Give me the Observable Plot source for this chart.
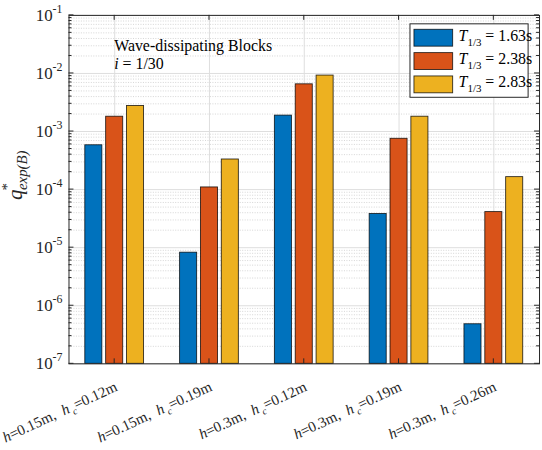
<!DOCTYPE html>
<html>
<head>
<meta charset="utf-8">
<script src="https://cdn.jsdelivr.net/npm/d3@7"></script>
<script src="https://cdn.jsdelivr.net/npm/@observablehq/plot@0.6"></script>
<style>
  html, body { margin: 0; padding: 0; background: #fff; overflow: hidden; }
</style>
</head>
<body>
<div id="chart"></div>
<script>
// Test cases: water depth h and crest height hc (m)
const depthH = ["0.15", "0.15", "0.3", "0.3", "0.3"];
const crestHc = ["0.12", "0.19", "0.12", "0.19", "0.26"];

// Significant wave periods T1/3 (s)
const periods = ["1.63", "2.38", "2.83"];

// Dimensionless overtopping rate q*exp(B) for each period
const qT163 = [5.8e-4, 8.2e-6, 1.88e-3, 3.8e-5, 4.8e-7];
const qT238 = [1.8e-3, 1.09e-4, 6.5e-3, 7.5e-4, 4.1e-5];
const qT283 = [2.75e-3, 3.3e-4, 9.2e-3, 1.8e-3, 1.64e-4];

const seriesColors = ["#0072BD", "#D95319", "#EDB120"];

// Decade exponents shown on the y axis
const yExponents = [-7, -6, -5, -4, -3, -2, -1];

const series = [qT163, qT238, qT283];
const groupIdx = depthH.map((_, i) => i + 1);
const yMin = 10 ** yExponents[0], yMax = 10 ** yExponents[yExponents.length - 1];

// Bar layout within each group (in category units)
const barStep = 0.22, barWidth = 0.18;
const bars = [];
series.forEach((vals, s) => {
  vals.forEach((q, i) => {
    const c = i + 1 + (s - 1) * barStep;
    bars.push({x1: c - barWidth / 2, x2: c + barWidth / 2, q, s});
  });
});

const majorTicks = yExponents.map(e => 10 ** e);
const minorTicks = [];
for (const e of yExponents.slice(0, -1)) for (let m = 2; m <= 9; m++) minorTicks.push(m * 10 ** e);

const serif = "Liberation Serif, Times New Roman, serif";
const frameColor = "#262626";

const chart = Plot.plot({
  width: 546,
  height: 450,
  marginLeft: 69,
  marginRight: 3,
  marginTop: 15,
  marginBottom: 84,
  x: {type: "linear", domain: [0.518, 5.482], axis: null},
  y: {type: "log", domain: [yMin, yMax], axis: null},
  marks: [
    Plot.ruleY(minorTicks, {stroke: "#c4c4c4", strokeDasharray: "1,1.5", strokeWidth: 0.7}),
    Plot.ruleY(majorTicks, {stroke: "#dedede", strokeWidth: 1}),
    Plot.ruleX(groupIdx, {stroke: "#dedede", strokeWidth: 1}),
    Plot.rectY(bars, {
      x1: "x1", x2: "x2", y1: yMin, y2: "q",
      fill: d => seriesColors[d.s],
      stroke: "#000", strokeOpacity: 0.8, strokeWidth: 0.9
    }),
    Plot.frame({stroke: frameColor, strokeWidth: 1})
  ]
});

const svg = d3.select(chart).attr("font-family", serif);
const sx = chart.scale("x"), sy = chart.scale("y");
const X = v => sx.apply(v), Y = v => sy.apply(v);
const [xL, xR] = [X(sx.domain[0]), X(sx.domain[1])];
const [yB, yT] = [Y(yMin), Y(yMax)];

function addText(parent, anchor, size, fill) {
  return parent.append("text")
    .attr("text-anchor", anchor)
    .attr("font-family", serif)
    .attr("font-size", size)
    .attr("fill", fill);
}

// Inward ticks on all four sides
const ticks = svg.append("g").attr("stroke", frameColor).attr("stroke-width", 1);
for (const v of majorTicks) {
  ticks.append("line").attr("x1", xL).attr("x2", xL + 5).attr("y1", Y(v)).attr("y2", Y(v));
  ticks.append("line").attr("x1", xR).attr("x2", xR - 5).attr("y1", Y(v)).attr("y2", Y(v));
}
for (const v of minorTicks) {
  ticks.append("line").attr("x1", xL).attr("x2", xL + 3).attr("y1", Y(v)).attr("y2", Y(v));
  ticks.append("line").attr("x1", xR).attr("x2", xR - 3).attr("y1", Y(v)).attr("y2", Y(v));
}
for (const i of groupIdx) {
  ticks.append("line").attr("x1", X(i)).attr("x2", X(i)).attr("y1", yB).attr("y2", yB - 5);
  ticks.append("line").attr("x1", X(i)).attr("x2", X(i)).attr("y1", yT).attr("y2", yT + 5);
}

// y tick labels: 10^e
for (const e of yExponents) {
  const t = addText(svg, "end", 17, frameColor)
    .attr("x", xL - 6).attr("y", Y(10 ** e) + 6);
  t.append("tspan").text("10");
  t.append("tspan").attr("dy", -8).attr("font-size", 12).text(String(e));
}

// x tick labels, rotated: h=…m, h_c=…m
depthH.forEach((h, i) => {
  const t = addText(svg, "end", 15, frameColor)
    .attr("transform", `translate(${X(i + 1) + 4},${yB + 27}) rotate(-25)`);
  t.append("tspan").attr("font-style", "italic").text("h");
  t.append("tspan").text(`=${h}m,  `);
  t.append("tspan").attr("font-style", "italic").text("h");
  t.append("tspan").attr("dx", 2).attr("dy", 4).attr("font-style", "italic").attr("font-size", 10).text("c");
  t.append("tspan").attr("dy", -4).text(`=${crestHc[i]}m`);
});

// y axis label: q*_exp(B)
{
  const yMid = (yT + yB) / 2;
  const t = addText(svg, "middle", 21, frameColor)
    .attr("transform", `translate(22,${yMid - 14}) rotate(-90)`);
  t.append("tspan").attr("font-style", "italic").text("q");
  t.append("tspan").attr("dy", -10).attr("dx", -1).attr("font-size", 15).text("*");
  t.append("tspan").attr("dx", -7).attr("dy", 15).attr("font-style", "italic").attr("font-size", 15).text("exp(B)");
}

// Annotation
{
  const ax = X(1), ay = Y(10 ** -1.63);
  addText(svg, "start", 16, "#000").attr("x", ax).attr("y", ay)
    .text("Wave-dissipating Blocks");
  const t2 = addText(svg, "start", 16, "#000").attr("x", ax).attr("y", ay + 18);
  t2.append("tspan").attr("font-style", "italic").text("i");
  t2.append("tspan").text(" = 1/30");
}

// Legend
{
  const lx = 413, ly = 24, lw = 119, lh = 74;
  const g = svg.append("g");
  g.append("rect").attr("x", lx).attr("y", ly).attr("width", lw).attr("height", lh)
    .attr("fill", "#fff").attr("stroke", frameColor).attr("stroke-width", 1);
  periods.forEach((p, k) => {
    const cy = ly + 14 + k * 23.5;
    g.append("rect").attr("x", lx + 4).attr("y", cy - 8.5).attr("width", 39).attr("height", 17)
      .attr("fill", seriesColors[k]).attr("stroke", "#000").attr("stroke-opacity", 0.8).attr("stroke-width", 0.9);
    const t = addText(g, "start", 16, "#000").attr("x", lx + 49).attr("y", cy + 3);
    t.append("tspan").attr("font-style", "italic").text("T");
    t.append("tspan").attr("dy", 5).attr("font-size", 11).text("1/3");
    t.append("tspan").attr("dy", -5).text(` = ${p}s`);
  });
}

document.getElementById("chart").append(chart);
</script>
</body>
</html>
